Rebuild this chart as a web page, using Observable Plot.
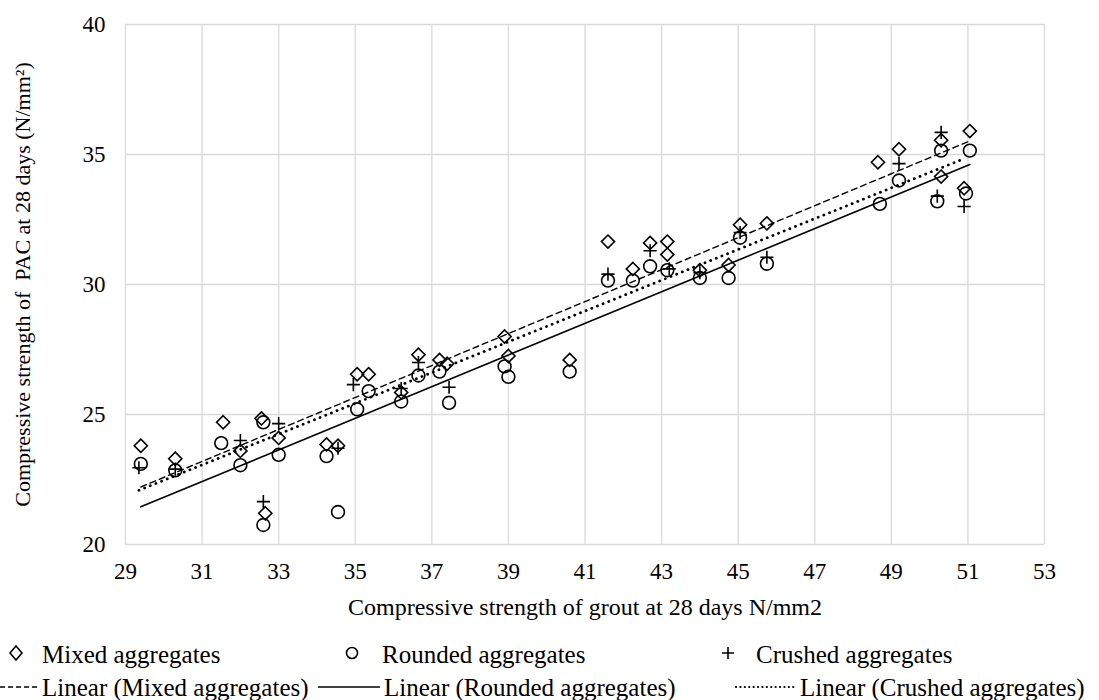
<!DOCTYPE html>
<html>
<head>
<meta charset="utf-8">
<script src="https://cdn.jsdelivr.net/npm/d3@7"></script>
<script src="https://cdn.jsdelivr.net/npm/@observablehq/plot@0.6"></script>
<style>
  body { margin: 0; background: #fff; font-family: "Liberation Serif", "Times New Roman", serif; }
  #chart { position: relative; width: 1099px; height: 700px; overflow: hidden; }
  .leg { position: absolute; font-size: 25px; line-height: 1; white-space: nowrap; color: #000; }
  .sw { position: absolute; }
  .ttl text { white-space: pre; }
</style>
</head>
<body>
<div id="chart"></div>
<script>
// Grout strength (x) vs PAC strength (y), N/mm², at 28 days
const mixedX = [29.4, 30.3, 31.55, 32.0, 32.55, 33.0, 32.65, 34.25, 34.55, 35.05, 35.35, 36.2, 36.65, 37.2, 37.4, 38.9, 39.0, 40.6, 41.6, 42.25, 42.7, 43.15, 43.15, 44.0, 44.75, 45.05, 45.75, 48.65, 49.2, 50.3, 50.3, 51.05, 50.9];
const mixedY = [23.8, 23.3, 24.7, 23.6, 24.85, 24.1, 21.2, 23.85, 23.8, 26.55, 26.55, 25.85, 27.3, 27.1, 26.95, 28.0, 27.25, 27.1, 31.65, 30.6, 31.6, 31.65, 31.15, 30.55, 30.75, 32.3, 32.35, 34.7, 35.2, 35.55, 34.15, 35.9, 33.7];

const roundedX = [29.4, 30.3, 31.5, 32.0, 32.6, 33.0, 32.6, 34.25, 34.55, 35.05, 35.35, 36.2, 36.65, 37.2, 37.45, 38.9, 39.0, 40.6, 41.6, 42.25, 42.7, 43.15, 44.0, 44.75, 45.05, 45.75, 48.7, 49.2, 50.3, 50.2, 51.05, 50.95];
const roundedY = [23.1, 22.85, 23.9, 23.05, 24.7, 23.45, 20.75, 23.4, 21.25, 25.2, 25.9, 25.5, 26.5, 26.65, 25.45, 26.85, 26.45, 26.65, 30.15, 30.15, 30.7, 30.55, 30.25, 30.25, 31.8, 30.8, 33.1, 34.0, 35.15, 33.2, 35.15, 33.5];

const crushedX = [29.35, 30.3, 32.0, 33.0, 32.6, 34.55, 34.95, 36.2, 36.65, 37.45, 41.6, 42.7, 43.2, 44.0, 45.05, 45.75, 49.2, 50.3, 50.2, 50.9];
const crushedY = [22.95, 22.9, 24.0, 24.65, 21.65, 23.7, 26.15, 26.0, 27.0, 26.05, 30.4, 31.3, 30.6, 30.45, 32.0, 31.05, 34.65, 35.85, 33.4, 33.0];

const xTicks = [29, 31, 33, 35, 37, 39, 41, 43, 45, 47, 49, 51, 53];
const yTicks = [20, 25, 30, 35, 40];

const xTitle = "Compressive strength of grout at 28 days N/mm2";
const yTitle = "Compressive strength of  PAC at 28 days (N/mm²)";

const seriesNames = ["Mixed aggregates", "Rounded aggregates", "Crushed aggregates"];

const toRows = (xs, ys) => xs.map((x, i) => ({x, y: ys[i]}));
const mixed = toRows(mixedX, mixedY);
const rounded = toRows(roundedX, roundedY);
const crushed = toRows(crushedX, crushedY);

const grid = "#d9d9d9";

const plot = Plot.plot({
  width: 1099,
  height: 622,
  marginLeft: 125,
  marginRight: 55,
  marginTop: 24,
  marginBottom: 78,
  style: {fontFamily: "'Liberation Serif', 'Times New Roman', serif", fontSize: "23px", color: "#000", background: "#fff"},
  x: {domain: [29, 53]},
  y: {domain: [20, 40]},
  marks: [
    Plot.gridX(xTicks, {stroke: grid, strokeOpacity: 1, strokeWidth: 1.3}),
    Plot.gridY(yTicks, {stroke: grid, strokeOpacity: 1, strokeWidth: 1.3}),
    Plot.axisX(xTicks, {tickSize: 0, tickPadding: 18, label: null, tickFormat: d => String(d)}),
    Plot.axisY(yTicks, {tickSize: 0, tickPadding: 20, label: null, tickFormat: d => String(d)}),
    // axis titles
    Plot.text([xTitle], {frameAnchor: "bottom", dy: 63, text: d => d, fontSize: 24, textAnchor: "middle", lineAnchor: "middle", className: "ttl"}),
    Plot.text([yTitle], {frameAnchor: "left", dx: -103, rotate: -90, text: d => d, fontSize: 22, textAnchor: "middle", lineAnchor: "middle", className: "ttl"}),
    Plot.linearRegressionY(mixed, {x: "x", y: "y", ci: 0, stroke: "#000", strokeWidth: 1.4, strokeDasharray: "6,4"}),
    Plot.linearRegressionY(rounded, {x: "x", y: "y", ci: 0, stroke: "#000", strokeWidth: 1.6}),
    Plot.linearRegressionY(crushed, {x: "x", y: "y", ci: 0, stroke: "#000", strokeWidth: 2.8, strokeDasharray: "0.1,6", strokeLinecap: "round"}),
    Plot.dot(mixed, {x: "x", y: "y", symbol: "diamond2", r: 5.9, stroke: "#000", strokeWidth: 1.6, fill: "none"}),
    Plot.dot(rounded, {x: "x", y: "y", symbol: "circle", r: 6.4, stroke: "#000", strokeWidth: 1.6, fill: "none"}),
    Plot.dot(crushed, {x: "x", y: "y", symbol: "plus", r: 4.3, stroke: "#000", strokeWidth: 1.6, fill: "none"})
  ]
});

const chart = document.getElementById("chart");
chart.appendChild(plot);

// Legend below the plot: markers on the first row, trend lines on the second
const sw = (left, top, w, h, inner) => {
  const s = `<svg class="sw" style="left:${left}px;top:${top}px" width="${w}" height="${h}" viewBox="0 0 ${w} ${h}">${inner}</svg>`;
  chart.insertAdjacentHTML("beforeend", s);
};
const label = (left, top, text) => {
  const d = document.createElement("div");
  d.className = "leg";
  d.style.left = left + "px";
  d.style.top = top + "px";
  d.textContent = text;
  chart.appendChild(d);
};

const row1 = 642, row2 = 675;

// first row: marker entries (marker centre, text left)
const markerCx = [16, 352, 728];
const markerText = [42, 382, 756];
const markers = [
  '<path d="M10,5 L16,12 L10,19 L4,12 Z" fill="none" stroke="#000" stroke-width="1.6"/>',
  '<circle cx="10" cy="12" r="5.5" fill="none" stroke="#000" stroke-width="1.6"/>',
  '<path d="M10,6 V18 M4,12 H16" fill="none" stroke="#000" stroke-width="1.6"/>'
];

// second row: trend-line entries (key span, text left)
const keySpan = [[0, 38], [318, 380], [734, 796]];
const keyText = [42, 384, 800];
const keyStyle = [
  'stroke-width="1.4" stroke-dasharray="5,3"',
  'stroke-width="1.6"',
  'stroke-width="2.2" stroke-dasharray="0.1,4.3" stroke-linecap="round"'
];

seriesNames.forEach((name, i) => {
  sw(markerCx[i] - 10, row1 - 1, 20, 24, markers[i]);
  label(markerText[i], row1, name);
  const [a, b] = keySpan[i];
  const w = b - a;
  sw(a, row2 - 1, w, 24, `<line x1="${i === 2 ? 2 : 0}" y1="13" x2="${w}" y2="13" stroke="#000" ${keyStyle[i]}/>`);
  label(keyText[i], row2, `Linear (${name})`);
});
</script>
</body>
</html>
